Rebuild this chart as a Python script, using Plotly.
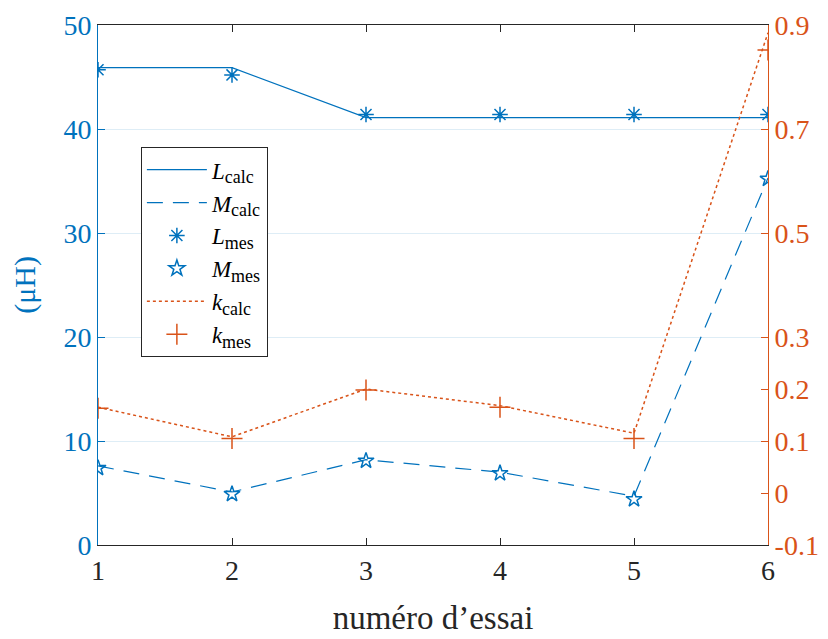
import plotly.graph_objects as go

essai = [1, 2, 3, 4, 5, 6]
L_calc = [45.9, 45.9, 41.1, 41.1, 41.1, 41.1]
L_mes = [45.7, 45.2, 41.4, 41.4, 41.4, 41.4]
M_calc = [7.6, 5.1, 8.2, 7.0, 4.7, 35.3]
M_mes = [7.4, 4.9, 8.1, 6.9, 4.4, 35.2]
k_calc = [0.165, 0.108, 0.200, 0.168, 0.115, 0.885]
k_mes = [0.163, 0.105, 0.198, 0.165, 0.105, 0.852]

left_ticks = [0, 10, 20, 30, 40, 50]
right_ticks = [-0.1, 0, 0.1, 0.2, 0.3, 0.5, 0.7, 0.9]
right_labels = ["-0.1", "0", "0.1", "0.2", "0.3", "0.5", "0.7", "0.9"]

BLUE = "#0072BD"
ORANGE = "#D95319"
FONT = "Liberation Serif"


def lab(v, s):
    return f"<i>{v}</i><sub><span style='font-size:18px'>{s}</span></sub>"


fig = go.Figure()
fig.add_trace(go.Scatter(x=essai, y=L_calc, mode="lines", name=lab("L", "calc"),
                         line=dict(color=BLUE, width=1.2)))
fig.add_trace(go.Scatter(x=essai, y=M_calc, mode="lines", name=lab("M", "calc"),
                         line=dict(color=BLUE, width=1.2, dash="16px,10px")))
fig.add_trace(go.Scatter(x=essai, y=L_mes, mode="markers", name=lab("L", "mes"),
                         marker=dict(symbol="asterisk-open", size=13, color=BLUE,
                                     line=dict(color=BLUE, width=1.5))))
fig.add_trace(go.Scatter(x=essai, y=M_mes, mode="markers", name=lab("M", "mes"),
                         marker=dict(symbol="star-open", size=12, color=BLUE,
                                     line=dict(color=BLUE, width=1.5))))
fig.add_trace(go.Scatter(x=essai, y=k_calc, mode="lines", name=lab("k", "calc"),
                         yaxis="y2", line=dict(color=ORANGE, width=1.5, dash="dot")))
fig.add_trace(go.Scatter(x=essai, y=k_mes, mode="markers", name=lab("k", "mes"),
                         yaxis="y2",
                         marker=dict(symbol="cross-thin-open", size=15, color=ORANGE,
                                     line=dict(color=ORANGE, width=1.5))))

fig.update_layout(
    width=828, height=639,
    margin=dict(l=90, r=68, t=17, b=102),
    plot_bgcolor="white", paper_bgcolor="white",
    font=dict(family=FONT, size=28, color="#262626"),
    showlegend=True,
    legend=dict(x=0.064, y=0.765, xanchor="left", yanchor="top",
                bgcolor="white", bordercolor="#262626", borderwidth=1,
                font=dict(family=FONT, size=23, color="#000000"),
                itemwidth=60, tracegroupgap=0),
    xaxis=dict(range=[1, 6], tickvals=essai, ticks="inside", ticklen=7,
               tickcolor="#262626", showline=True, linecolor="#262626", linewidth=1,
               mirror="ticks", showgrid=False, zeroline=False, automargin=False,
               tickfont=dict(family=FONT, size=28, color="#262626"),
               title=dict(text="numéro d’essai", font=dict(family=FONT, size=33, color="#262626"),
                          standoff=21)),
    yaxis=dict(range=[0, 50], tickvals=left_ticks, ticks="inside", ticklen=7,
               tickcolor=BLUE, showline=True, linecolor=BLUE, linewidth=1,
               showgrid=True, gridcolor="rgba(0,114,189,0.13)", gridwidth=1,
               zeroline=False, automargin=False,
               tickfont=dict(family=FONT, size=28, color=BLUE),
               title=dict(text="(μH)", font=dict(family=FONT, size=30, color=BLUE),
                          standoff=18)),
    yaxis2=dict(range=[-0.1, 0.9], tickvals=right_ticks, ticktext=right_labels,
                overlaying="y", side="right", ticks="inside", ticklen=7,
                tickcolor=ORANGE, showline=True, linecolor=ORANGE, linewidth=1,
                showgrid=False, zeroline=False, automargin=False,
                tickfont=dict(family=FONT, size=28, color=ORANGE)),
)

fig.write_html("out.html")
